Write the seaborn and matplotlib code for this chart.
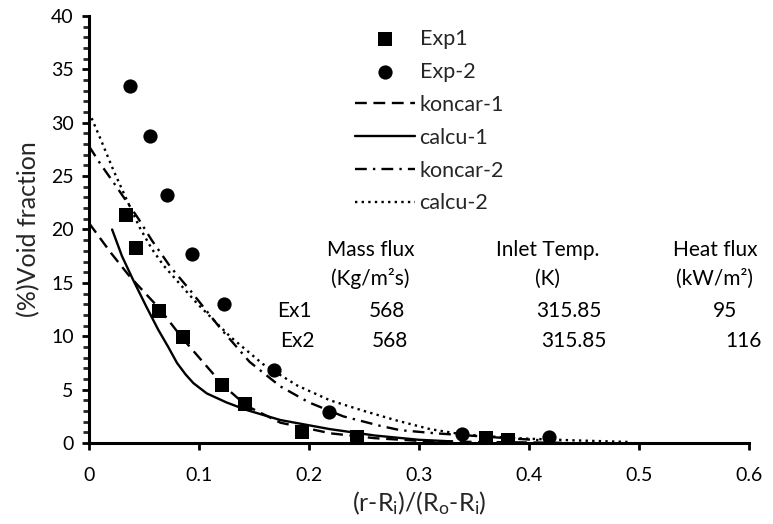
import numpy as np
import pandas as pd
import matplotlib
matplotlib.use("Agg")
import matplotlib.pyplot as plt
from matplotlib.ticker import MultipleLocator, FixedLocator, FixedFormatter
import seaborn as sns

# Experimental void fraction profiles
exp1_x = [0.034, 0.043, 0.064, 0.085, 0.121, 0.142, 0.194, 0.244, 0.361, 0.381]
exp1_y = [21.4, 18.3, 12.4, 9.9, 5.4, 3.7, 1.0, 0.55, 0.45, 0.3]
exp2_x = [0.037, 0.055, 0.071, 0.094, 0.123, 0.168, 0.218, 0.339, 0.418]
exp2_y = [33.4, 28.8, 23.2, 17.7, 13.0, 6.8, 2.9, 0.8, 0.55]

# Model curves
koncar1_x = [0.0, 0.02, 0.037, 0.064, 0.085, 0.122, 0.143, 0.174, 0.22, 0.26, 0.30, 0.35, 0.40, 0.43]
koncar1_y = [20.6, 17.8, 15.6, 12.6, 9.8, 5.4, 3.5, 1.9, 0.9, 0.45, 0.2, 0.1, 0.05, 0.02]

calcu1_x = [0.021, 0.030, 0.040, 0.052, 0.063, 0.072, 0.080, 0.088, 0.095, 0.107, 0.125,
            0.143, 0.174, 0.219, 0.26, 0.30, 0.33]
calcu1_y = [20.0, 17.5, 15.3, 12.8, 10.6, 9.0, 7.5, 6.4, 5.6, 4.65, 3.8,
            3.1, 2.15, 1.3, 0.7, 0.3, 0.15]

koncar2_x = [0.0, 0.01, 0.025, 0.045, 0.057, 0.074, 0.092, 0.119, 0.146, 0.174, 0.20,
             0.231, 0.265, 0.283, 0.316, 0.36, 0.38, 0.42]
koncar2_y = [27.8, 26.2, 24.0, 21.0, 19.0, 16.5, 14.3, 10.8, 7.6, 5.3, 3.8,
             2.5, 1.6, 1.2, 0.9, 0.6, 0.45, 0.2]

calcu2_x = [0.0, 0.01, 0.022, 0.036, 0.046, 0.057, 0.068, 0.098, 0.128, 0.158, 0.189,
            0.219, 0.25, 0.28, 0.31, 0.34, 0.39, 0.44, 0.49]
calcu2_y = [31.0, 28.6, 25.6, 22.4, 20.2, 18.2, 16.6, 13.1, 10.0, 7.4, 5.4,
            4.0, 3.0, 2.1, 1.3, 0.8, 0.44, 0.25, 0.1]

x_ticks = [0.0, 0.1, 0.2, 0.3, 0.4, 0.5, 0.6]
x_tick_labels = ["0", "0.1", "0.2", "0.3", "0.4", "0.5", "0.6"]
y_ticks = [0, 5, 10, 15, 20, 25, 30, 35, 40]

# Operating conditions table
table_header = ["Mass flux", "Inlet Temp.", "Heat flux"]
table_units = ["(Kg/m\u00b2s)", "(K)", "(kW/m\u00b2)"]
table_rows = ["Ex1", "Ex2"]
mass_flux = ["568", "568"]
inlet_temp = ["315.85", "315.85"]
heat_flux = ["95", "116"]

sns.set_style("ticks")
plt.rcParams["font.family"] = ["Lato", "DejaVu Sans"]
plt.rcParams["mathtext.fontset"] = "custom"
plt.rcParams["mathtext.rm"] = "Lato"
plt.rcParams["mathtext.it"] = "Lato:italic"

fig = plt.figure(figsize=(7.73, 5.24), dpi=100)
ax = fig.add_axes([89 / 773, 1 - 443 / 524, (749 - 89) / 773, (443 - 16) / 524])

lw = 1.7
scat_kw = dict(color="black", edgecolor="black", linewidth=0, ax=ax, zorder=3)
sns.scatterplot(x=exp1_x, y=exp1_y, marker="s", s=95, label="Exp1", **scat_kw)
sns.scatterplot(x=exp2_x, y=exp2_y, marker="o", s=105, label="Exp-2", **scat_kw)

line_kw = dict(color="black", linewidth=lw, ax=ax, sort=False, estimator=None)
sns.lineplot(x=koncar1_x, y=koncar1_y, label="koncar-1", linestyle=(0, (5.0, 2.8)), **line_kw)
sns.lineplot(x=calcu1_x, y=calcu1_y, label="calcu-1", linestyle="-", **line_kw)
sns.lineplot(x=koncar2_x, y=koncar2_y, label="koncar-2", linestyle=(0, (5.0, 2.6, 1.0, 2.6)), **line_kw)
sns.lineplot(x=calcu2_x, y=calcu2_y, label="calcu-2", linestyle=(0, (1.0, 1.8)), **line_kw)

ax.set_xlim(0, 0.6)
ax.set_ylim(0, 40)
ax.xaxis.set_major_locator(FixedLocator(x_ticks))
ax.xaxis.set_major_formatter(FixedFormatter(x_tick_labels))
ax.yaxis.set_major_locator(FixedLocator(y_ticks))
ax.yaxis.set_minor_locator(MultipleLocator(1))

for side in ["top", "right"]:
    ax.spines[side].set_visible(False)
for side in ["left", "bottom"]:
    ax.spines[side].set_linewidth(2.2)
    ax.spines[side].set_color("black")

ax.tick_params(axis="both", which="major", direction="out", length=5, width=2,
               labelsize=14, colors="black")
ax.tick_params(axis="x", which="major", pad=12)
ax.tick_params(axis="y", which="major", pad=6)
ax.tick_params(axis="y", which="minor", direction="out", length=4, width=2)

ax.set_ylabel("(%)Void fraction", fontsize=18, labelpad=8)
ax.set_xlabel(r"(r-R$_\mathregular{i}$)/(R$_\mathregular{o}$-R$_\mathregular{i}$)", fontsize=18, labelpad=4)

handles, labels = ax.get_legend_handles_labels()
order = ["Exp1", "Exp-2", "koncar-1", "calcu-1", "koncar-2", "calcu-2"]
hmap = dict(zip(labels, handles))
ax.legend([hmap[k] for k in order], order, loc="upper left",
          bbox_to_anchor=(0.39, 0.99), frameon=False, fontsize=15.5,
          handlelength=2.8, handletextpad=0.2, labelspacing=0.6,
          borderaxespad=0)

txt_kw = dict(fontsize=15, ha="center", va="center", color="black")
header_x = [0.256, 0.417, 0.569]
for hx, h, u in zip(header_x, table_header, table_units):
    ax.text(hx, 18.1, h, **txt_kw)
    ax.text(hx, 15.4, u, **txt_kw)

row_y = [12.4, 9.6]
ax.text(0.187, row_y[0], table_rows[0], **txt_kw)
ax.text(0.189, row_y[1], table_rows[1], **txt_kw)
ax.text(0.271, row_y[0], mass_flux[0], **txt_kw)
ax.text(0.274, row_y[1], mass_flux[1], **txt_kw)
ax.text(0.436, row_y[0], inlet_temp[0], **txt_kw)
ax.text(0.441, row_y[1], inlet_temp[1], **txt_kw)
ax.text(0.578, row_y[0], heat_flux[0], **txt_kw)
ax.text(0.595, row_y[1], heat_flux[1], **txt_kw)

fig.savefig("out.png", dpi=100)
